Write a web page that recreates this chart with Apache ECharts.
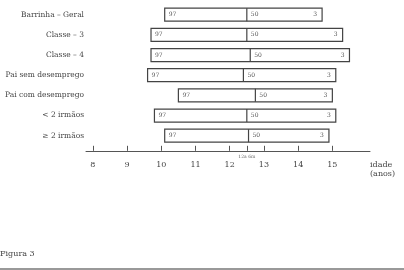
<!DOCTYPE html>
<html>
<head>
<meta charset="utf-8">
<script src="https://cdn.jsdelivr.net/npm/echarts@6/dist/echarts.min.js"></script>
<style>
  html, body { margin: 0; padding: 0; background: #fff; }
  #chart { width: 404px; height: 270px; }
</style>
</head>
<body>
<div id="chart"></div>
<script>
// grupos e percentis (idade em anos)
const groups = ['Barrinha – Geral', 'Classe – 3', 'Classe – 4', 'Pai sem desemprego',
  'Pai com desemprego', '< 2 irmãos', '≥ 2 irmãos'];
const p97 = [10.1, 9.7, 9.7, 9.6, 10.5, 9.8, 10.1];
const p50 = [12.5, 12.5, 12.6, 12.4, 12.75, 12.5, 12.55];
const p3 = [14.7, 15.3, 15.5, 15.1, 15.0, 15.1, 14.9];
const pctLabels = ['97', '50', '3'];
const tickYears = [8, 9, 10, 11, 12, 13, 14, 15];
const markerAge = 12.5;
const markerLabel = '12a 6m';

const serif = '"DejaVu Serif", serif';
const chart = echarts.init(document.getElementById('chart'));

const boxData = groups.map((g, i) => [p97[i], i, p50[i], p3[i]]);

chart.setOption({
  animation: false,
  backgroundColor: '#fff',
  grid: { left: 86, right: 34, top: 4.6, height: 141.2 },
  xAxis: {
    type: 'value',
    min: 7.8,
    max: 16.1,
    offset: 5,
    splitLine: { show: false },
    axisLine: { show: true, lineStyle: { color: '#555', width: 1 } },
    axisTick: {
      show: true, inside: true, length: 5,
      customValues: tickYears.concat([markerAge]),
      lineStyle: { color: '#555' }
    },
    axisLabel: {
      customValues: tickYears, margin: 10,
      fontFamily: serif, fontSize: 8, color: '#444'
    },
    name: 'idade\n(anos)',
    nameLocation: 'end',
    nameGap: 0,
    nameTextStyle: {
      fontFamily: serif, fontSize: 8, color: '#444',
      align: 'left', verticalAlign: 'top', lineHeight: 9,
      padding: [10, 0, 0, 0]
    }
  },
  yAxis: {
    type: 'category',
    inverse: true,
    data: groups,
    axisLine: { show: false },
    axisTick: { show: false },
    axisLabel: { margin: 2, fontFamily: serif, fontSize: 7.5, color: '#444' }
  },
  series: [
    {
      type: 'custom',
      encode: { x: [0, 2, 3], y: 1 },
      data: boxData,
      renderItem: function (params, api) {
        const row = api.value(1);
        const a = api.coord([api.value(0), row]);
        const m = api.coord([api.value(2), row]);
        const b = api.coord([api.value(3), row]);
        const h = 13;
        const txt = { fontFamily: serif, fontSize: 6, fill: '#555', verticalAlign: 'middle' };
        return {
          type: 'group',
          children: [
            { type: 'rect', shape: { x: a[0], y: a[1] - h / 2, width: b[0] - a[0], height: h },
              style: { fill: '#fff', stroke: '#444', lineWidth: 1.2 } },
            { type: 'line', shape: { x1: m[0], y1: a[1] - h / 2, x2: m[0], y2: a[1] + h / 2 },
              style: { stroke: '#444', lineWidth: 1.2 } },
            { type: 'text', x: a[0] + 4, y: a[1],
              style: Object.assign({ text: pctLabels[0], align: 'left' }, txt) },
            { type: 'text', x: m[0] + 4, y: a[1],
              style: Object.assign({ text: pctLabels[1], align: 'left' }, txt) },
            { type: 'text', x: b[0] - 5, y: a[1],
              style: Object.assign({ text: pctLabels[2], align: 'right' }, txt) }
          ]
        };
      }
    },
    {
      type: 'custom',
      encode: { x: 0 },
      data: [[markerAge]],
      silent: true,
      renderItem: function (params, api) {
        const p = api.coord([api.value(0), 0]);
        const cs = params.coordSys;
        return {
          type: 'text', x: p[0], y: cs.y + cs.height + 11,
          style: { text: markerLabel, fontFamily: serif, fontSize: 4.5, fill: '#666',
            align: 'center', verticalAlign: 'middle' }
        };
      }
    }
  ],
  graphic: [
    { type: 'text', left: 0, top: 250,
      style: { text: 'Figura 3', fontFamily: serif, fontSize: 8, fill: '#444' } },
    { type: 'line', shape: { x1: 0, y1: 269, x2: 404, y2: 269 },
      style: { stroke: '#777', lineWidth: 1.5 } }
  ]
});
</script>
</body>
</html>
